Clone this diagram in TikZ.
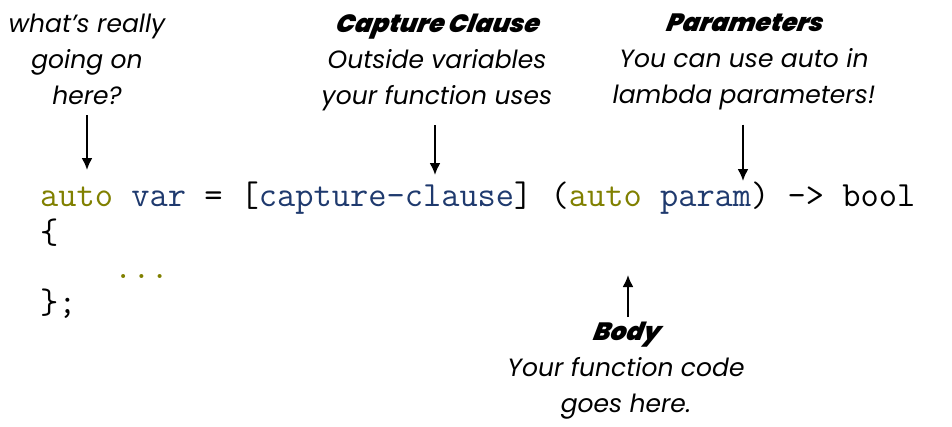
\documentclass[tikz,border=0pt]{standalone}
\usepackage{fontspec}
\setmainfont{Poppins}
\newfontfamily\heavyfont{Poppins Black}[FakeSlant=0.2]
\usetikzlibrary{arrows.meta}
\definecolor{kwolive}{RGB}{128,128,0}
\definecolor{idnavy}{RGB}{31,58,110}
\tikzset{
  note/.style={font=\fontsize{25}{36}\selectfont\itshape, align=center, inner sep=0pt, anchor=north},
  codeline/.style={font=\fontsize{35.4}{35}\selectfont\ttfamily, inner sep=0pt, anchor=base west},
  pointer/.style={-{Latex[length=12pt,width=11pt]}, line width=2pt}
}
\newcommand\heading[1]{{\heavyfont #1}}
\begin{document}
\begin{tikzpicture}[x=1pt,y=-1pt]
\useasboundingbox (0,0) rectangle (952,426);
% labels
\node[note] (whatlbl) at (87,14) {what’s really\\going on\\here?};
\node[note] (capturelbl) at (437,14) {\heading{Capture Clause}\\Outside variables\\your function uses};
\node[note] (paramlbl) at (744,14) {\heading{Parameters}\\You can use auto in\\lambda parameters!};
\node[note] (bodylbl) at (626,322) {\heading{Body}\\Your function code\\goes here.};
% code
\node[codeline] (line1) at (40,206) {\textcolor{kwolive}{auto} \textcolor{idnavy}{var} = [\textcolor{idnavy}{capture-clause}] (\textcolor{kwolive}{auto} \textcolor{idnavy}{param}) -> bool};
\node[codeline] (line2) at (40,243) {\{};
\node[codeline] (line3) at (114,278) {\textcolor{kwolive}{...}};
\node[codeline] (line4) at (40,313) {\};};
% arrow tips
\coordinate (autotip) at (87,170);
\coordinate (capturetip) at (435,175);
\coordinate (paramtip) at (743,181);
\coordinate (bodytip) at (628,275);
\draw[pointer, shorten <=10pt] (whatlbl.south -| autotip) -- (autotip);
\draw[pointer, shorten <=14pt] (capturelbl.south -| capturetip) -- (capturetip);
\draw[pointer, shorten <=14pt] (paramlbl.south -| paramtip) -- (paramtip);
\draw[pointer, shorten <=5pt] (bodylbl.north -| bodytip) -- (bodytip);
\end{tikzpicture}
\end{document}
